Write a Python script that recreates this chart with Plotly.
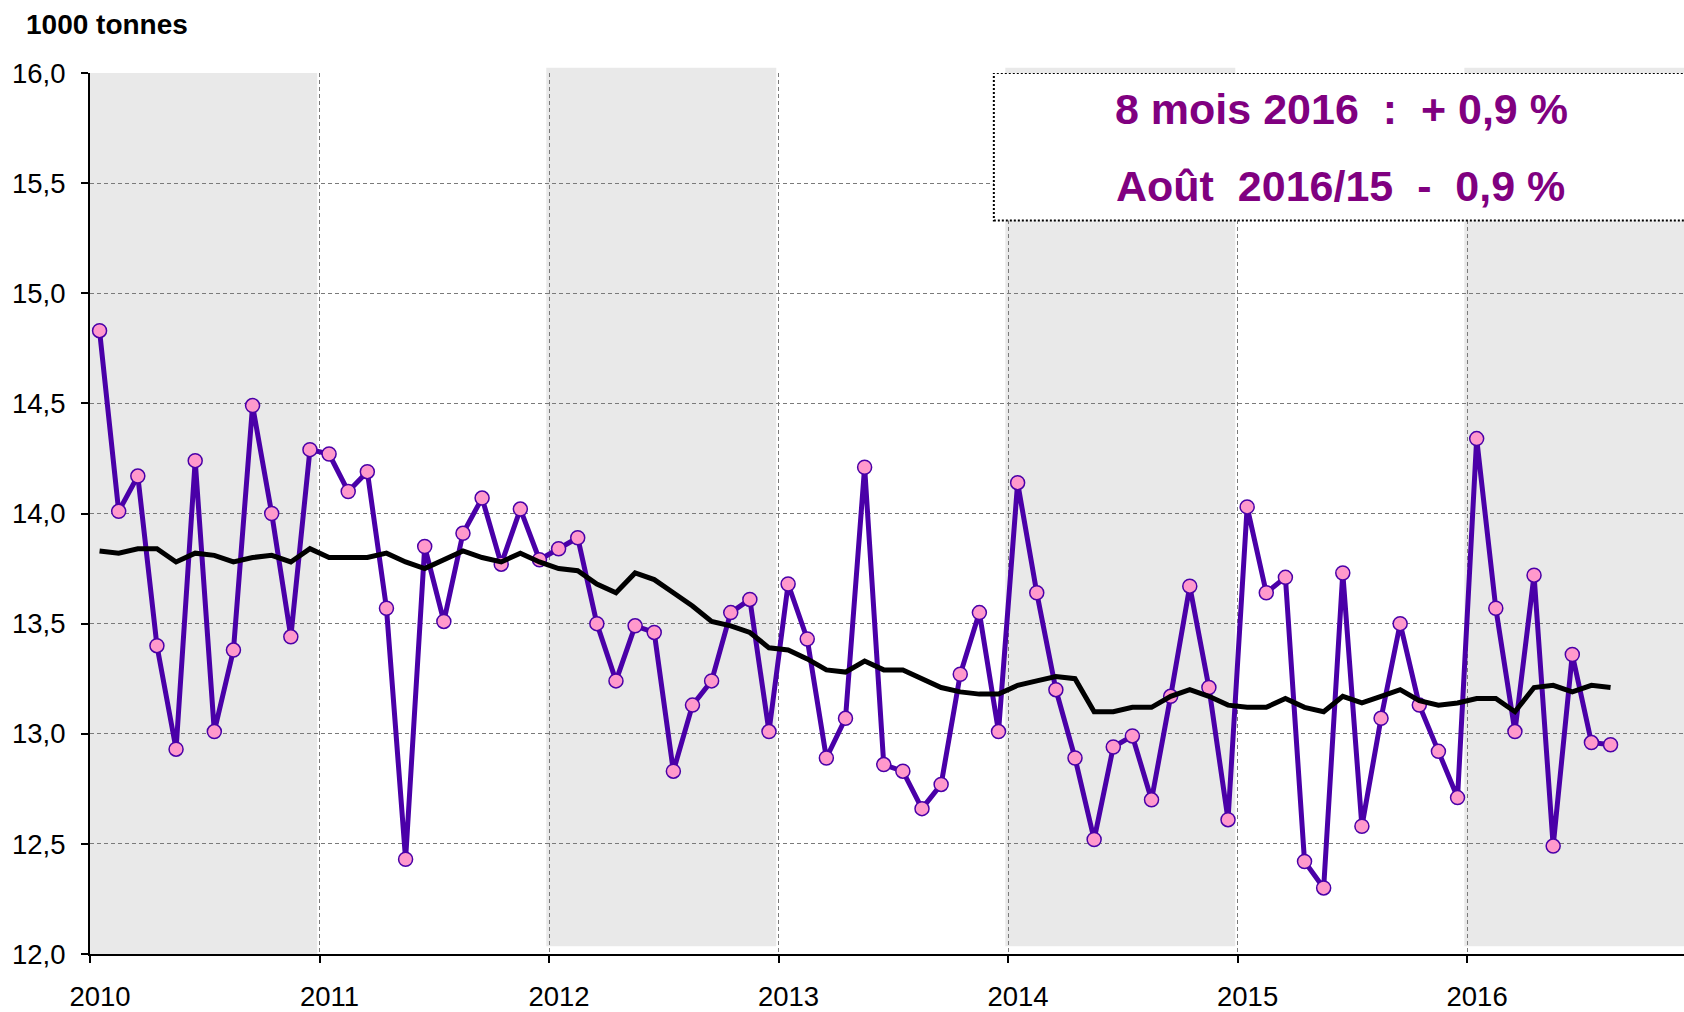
import plotly.graph_objects as go

# ---- data ----
start_year = 2010
months_count = 80  # Jan 2010 .. Aug 2016

monthly = [
    # 2010
    14.83, 14.01, 14.17, 13.40, 12.93, 14.24, 13.01, 13.38, 14.49, 14.00, 13.44, 14.29,
    # 2011
    14.27, 14.10, 14.19, 13.57, 12.43, 13.85, 13.51, 13.91, 14.07, 13.77, 14.02, 13.79,
    # 2012
    13.84, 13.89, 13.50, 13.24, 13.49, 13.46, 12.83, 13.13, 13.24, 13.55, 13.61, 13.01,
    # 2013
    13.68, 13.43, 12.89, 13.07, 14.21, 12.86, 12.83, 12.66, 12.77, 13.27, 13.55, 13.01,
    # 2014
    14.14, 13.64, 13.20, 12.89, 12.52, 12.94, 12.99, 12.70, 13.17, 13.67, 13.21, 12.61,
    # 2015
    14.03, 13.64, 13.71, 12.42, 12.30, 13.73, 12.58, 13.07, 13.50, 13.13, 12.92, 12.71,
    # 2016
    14.34, 13.57, 13.01, 13.72, 12.49, 13.36, 12.96, 12.95,
]

moving_avg = [
    # 2010
    13.83, 13.82, 13.84, 13.84, 13.78, 13.82, 13.81, 13.78, 13.80, 13.81, 13.78, 13.84,
    # 2011
    13.80, 13.80, 13.80, 13.82, 13.78, 13.75, 13.79, 13.83, 13.80, 13.78, 13.82, 13.78,
    # 2012
    13.75, 13.74, 13.68, 13.64, 13.73, 13.70, 13.64, 13.58, 13.51, 13.49, 13.46, 13.39,
    # 2013
    13.38, 13.34, 13.29, 13.28, 13.33, 13.29, 13.29, 13.25, 13.21, 13.19, 13.18, 13.18,
    # 2014
    13.22, 13.24, 13.26, 13.25, 13.10, 13.10, 13.12, 13.12, 13.17, 13.20, 13.17, 13.13,
    # 2015
    13.12, 13.12, 13.16, 13.12, 13.10, 13.17, 13.14, 13.17, 13.20, 13.15, 13.13, 13.14,
    # 2016
    13.16, 13.16, 13.10, 13.21, 13.22, 13.19, 13.22, 13.21,
]

years = [2010, 2011, 2012, 2013, 2014, 2015, 2016]
year_labels = ["2010", "2011", "2012", "2013", "2014", "2015", "2016"]
shaded_years = [2010, 2012, 2014, 2016]
y_ticks = [12.0, 12.5, 13.0, 13.5, 14.0, 14.5, 15.0, 15.5, 16.0]

unit_label = "1000 tonnes"
box_line1 = "8 mois 2016  :  + 0,9 %"
box_line2 = "Août  2016/15  -  0,9 %"

# mid-month positions on a decimal-year axis
x_pos = [start_year + (i + 0.5) / 12 for i in range(months_count)]

PURPLE = "#4A00A8"
PINK = "#FF99CC"
TEXT_PURPLE = "#800080"
GRID = "#7A7A7A"
SHADE = "#E9E9E9"
FONT = "Liberation Sans, Arial, sans-serif"

fig = go.Figure()

fig.add_trace(go.Scatter(
    x=x_pos, y=monthly, mode="lines+markers",
    line=dict(color=PURPLE, width=5),
    marker=dict(size=14, color=PINK, line=dict(color=PURPLE, width=1.5)),
    showlegend=False, hoverinfo="skip",
))
fig.add_trace(go.Scatter(
    x=x_pos, y=moving_avg, mode="lines",
    line=dict(color="black", width=5),
    showlegend=False, hoverinfo="skip",
))

shapes = []
for yr in shaded_years:
    if yr == years[0]:
        shapes.append(dict(type="rect", xref="x", yref="paper", x0=yr, x1=yr + 0.99,
                           y0=0, y1=1, fillcolor=SHADE, line=dict(width=0), layer="below"))
    else:
        shapes.append(dict(type="rect", xref="x", yref="paper", x0=yr - 0.012, x1=yr + 0.99,
                           y0=0.0087, y1=1.006, fillcolor=SHADE, line=dict(width=0), layer="below"))

# text box
shapes.append(dict(type="rect", xref="x", yref="y", x0=2013.938, x1=2017.2,
                   y0=15.33, y1=16.0, fillcolor="white",
                   line=dict(color="black", width=2, dash="2px,2px"), layer="above"))

nb = lambda s: s.replace(" ", "\u00a0")

annotations = [
    dict(text="<b>" + unit_label + "</b>", xref="paper", yref="paper",
         x=-0.0417, y=1.0555, xanchor="left", yanchor="middle", showarrow=False,
         font=dict(family=FONT, size=28, color="black")),
    dict(text="<b>" + nb(box_line1) + "</b>", xref="x", yref="y",
         x=2015.454, y=15.838, xanchor="center", yanchor="middle", showarrow=False,
         font=dict(family=FONT, size=43, color=TEXT_PURPLE)),
    dict(text="<b>" + nb(box_line2) + "</b>", xref="x", yref="y",
         x=2015.45, y=15.486, xanchor="center", yanchor="middle", showarrow=False,
         font=dict(family=FONT, size=43, color=TEXT_PURPLE)),
]

fig.update_layout(
    width=1684, height=1012, autosize=False,
    margin=dict(l=90, r=0, t=73, b=50, pad=0),
    paper_bgcolor="white", plot_bgcolor="white",
    separators=", ",
    font=dict(family=FONT, color="black"),
    shapes=shapes, annotations=annotations,
    xaxis=dict(
        range=[2010, 2016.945], tickmode="array", tickvals=years, ticktext=year_labels,
        showgrid=True, gridcolor=GRID, gridwidth=1.3, griddash="4px,3px",
        zeroline=False, showline=True, linecolor="black", linewidth=2,
        ticks="outside", ticklen=7, tickwidth=2, tickcolor="black",
        tickfont=dict(family=FONT, size=27.5, color="black"),
        ticklabelshift=10, ticklabelstandoff=10,
    ),
    yaxis=dict(
        range=[12, 16], tickmode="array", tickvals=y_ticks, tickformat=".1f",
        showgrid=True, gridcolor=GRID, gridwidth=1.3, griddash="4px,3px",
        zeroline=False, showline=True, linecolor="black", linewidth=2,
        ticks="outside", ticklen=7, tickwidth=2, tickcolor="black",
        tickfont=dict(family=FONT, size=27.5, color="black"),
        ticklabelstandoff=10,
    ),
)

fig.write_html(
    "out.html",
    config={"displayModeBar": False},
    post_script="document.body.style.margin='0';document.body.style.overflow='hidden';",
)
